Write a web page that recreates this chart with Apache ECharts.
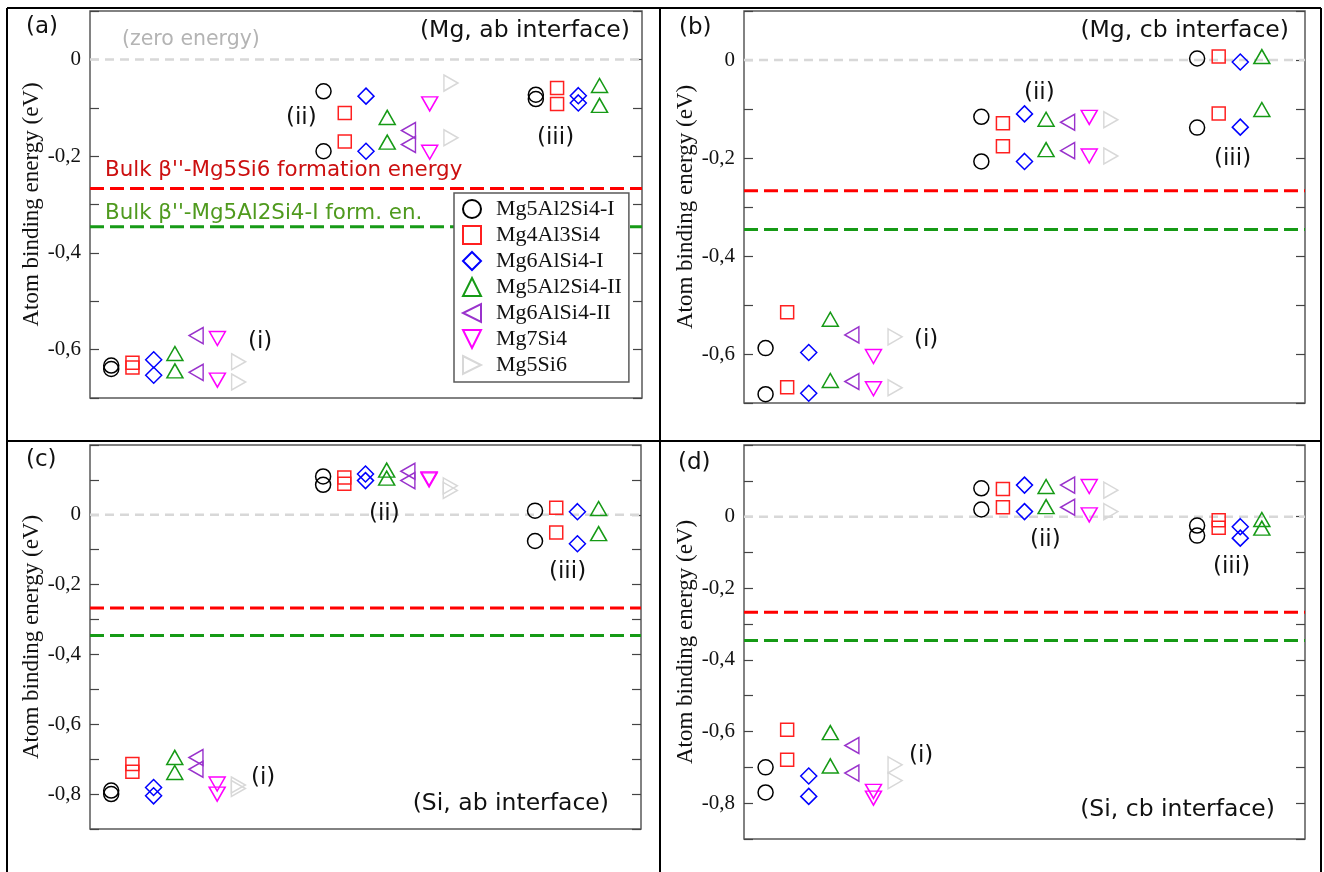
<!DOCTYPE html>
<html><head><meta charset="utf-8">
<script src="https://cdn.jsdelivr.net/npm/echarts@6/dist/echarts.min.js"></script>
<style>html,body{margin:0;padding:0;background:#fff}#c{width:1324px;height:872px}</style>
</head><body><div id="c"></div><script>
// ---------- data ----------
const seriesNames = ['Mg5Al2Si4-I','Mg4Al3Si4','Mg6AlSi4-I','Mg5Al2Si4-II','Mg6AlSi4-II','Mg7Si4','Mg5Si6'];
const xGroupI = [1,2,3,4,5,6,7];
const xGroupII = [11,12,13,14,15,16,17];
const xGroupIII = [21,22,23,24];
const xRange = [0, 26];
const yTickValues = [0, -0.2, -0.4, -0.6, -0.8];
const yTickLabels = ['0', '-0,2', '-0,4', '-0,6', '-0,8'];
const refZero = 0;
const refMg5Si6 = -0.267;
const refMg5Al2Si4 = -0.346;

// (a) Mg, ab interface
const aI_hi   = [-0.633, -0.627, -0.621, -0.608, -0.571, -0.577, -0.625];
const aI_lo   = [-0.640, -0.637, -0.653, -0.644, -0.647, -0.663, -0.667];
const aII_hi  = [-0.066, -0.111, -0.076, -0.120, -0.147, -0.092, -0.049];
const aII_lo  = [-0.190, -0.170, -0.190, -0.171, -0.176, -0.192, -0.162];
const aIII_hi = [-0.073, -0.059, -0.075, -0.054];
const aIII_lo = [-0.082, -0.092, -0.090, -0.095];
// (b) Mg, cb interface
const bI_hi   = [-0.588, -0.515, -0.597, -0.529, -0.561, -0.605, -0.565];
const bI_lo   = [-0.682, -0.668, -0.680, -0.654, -0.656, -0.671, -0.669];
const bII_hi  = [-0.116, -0.129, -0.110, -0.121, -0.127, -0.117, -0.122];
const bII_lo  = [-0.207, -0.176, -0.207, -0.183, -0.185, -0.196, -0.196];
const bIII_hi = [0.003, 0.007, -0.004, 0.007];
const bIII_lo = [-0.138, -0.109, -0.137, -0.101];
// (c) Si, ab interface
const cI_hi   = [-0.790, -0.714, -0.781, -0.695, -0.695, -0.771, -0.774];
const cI_lo   = [-0.800, -0.736, -0.805, -0.738, -0.729, -0.800, -0.784];
const cII_hi  = [0.110, 0.107, 0.117, 0.128, 0.125, 0.103, 0.083];
const cII_lo  = [0.086, 0.089, 0.098, 0.105, 0.098, 0.100, 0.070];
const cIII_hi = [0.012, 0.020, 0.009, 0.018];
const cIII_lo = [-0.075, -0.051, -0.083, -0.054];
// (d) Si, cb interface
const dI_hi   = [-0.700, -0.595, -0.724, -0.603, -0.639, -0.767, -0.693];
const dI_lo   = [-0.770, -0.679, -0.781, -0.696, -0.716, -0.786, -0.737];
const dII_hi  = [0.079, 0.077, 0.088, 0.084, 0.088, 0.084, 0.074];
const dII_lo  = [0.020, 0.026, 0.014, 0.028, 0.026, 0.005, 0.014];
const dIII_hi = [-0.025, -0.010, -0.028, -0.008];
const dIII_lo = [-0.053, -0.031, -0.060, -0.032];

// ---------- styles ----------
const seriesColors = ['#000000','#ff2020','#0000ff','#169a16','#9932cc','#ff00ff','#d8d8d8'];
const symbols = ['circle','rect','diamond','triangle','path://M10,0L10,10L0,5Z','path://M0,0L10,0L5,10Z','path://M0,0L10,5L0,10Z'];
const symbolSizes = [15, 13, 16, [16,14], [14,16], [16,14], [14,16]];

const panels = [
  {grid:{left:90, top:11, width:552, height:387}, min:-0.7, max:0.1, groups:[[aI_hi,aI_lo],[aII_hi,aII_lo],[aIII_hi,aIII_lo]]},
  {grid:{left:744, top:11, width:561, height:392}, min:-0.7, max:0.1, groups:[[bI_hi,bI_lo],[bII_hi,bII_lo],[bIII_hi,bIII_lo]]},
  {grid:{left:90, top:445, width:551, height:384}, min:-0.9, max:0.2, groups:[[cI_hi,cI_lo],[cII_hi,cII_lo],[cIII_hi,cIII_lo]]},
  {grid:{left:744, top:445, width:561, height:394}, min:-0.9, max:0.2, groups:[[dI_hi,dI_lo],[dII_hi,dII_lo],[dIII_hi,dIII_lo]]}
];
const groupXs = [xGroupI, xGroupII, xGroupIII];

function tickFmt(v){
  const k = Math.round(v*10);
  for (let i=0;i<yTickValues.length;i++){ if (Math.round(yTickValues[i]*10) === k) return yTickLabels[i]; }
  return '';
}

const grid=[], xAxis=[], yAxis=[], series=[];
const serif = 'Liberation Serif';
panels.forEach((p, pi) => {
  grid.push(Object.assign({show:true, borderColor:'#5a5a5a', borderWidth:1.5, backgroundColor:'transparent'}, p.grid));
  xAxis.push({type:'value', gridIndex:pi, min:xRange[0], max:xRange[1], show:false});
  yAxis.push({type:'value', gridIndex:pi, min:p.min, max:p.max, interval:0.1, position:'left',
    name:'Atom binding energy (eV)', nameLocation:'middle', nameGap:46,
    nameTextStyle:{fontFamily:serif, fontSize:23, color:'#111'},
    axisLine:{show:false}, splitLine:{show:false},
    axisTick:{show:true, inside:true, length:9, lineStyle:{color:'#444', width:1.2}},
    axisLabel:{formatter:tickFmt, fontFamily:serif, fontSize:21, color:'#111', margin:9, showMinLabel:true, showMaxLabel:true}});
  yAxis.push({type:'value', gridIndex:pi, min:p.min, max:p.max, interval:0.1, position:'right',
    axisLine:{show:false}, splitLine:{show:false}, axisLabel:{show:false},
    axisTick:{show:true, inside:true, length:9, lineStyle:{color:'#444', width:1.2}}});
  const yi = pi*2;
  // reference lines
  const refs = [[refZero,'#d8d8d8',2.5,[9,6]],[refMg5Si6,'#ff0000',3,[14,6]],[refMg5Al2Si4,'#169a16',3,[14,6]]];
  refs.forEach(r => {
    series.push({type:'line', xAxisIndex:pi, yAxisIndex:yi, silent:true, symbol:'none', z:1,
      data:[[xRange[0], r[0]],[xRange[1], r[0]]], lineStyle:{color:r[1], width:r[2], type:r[3]}});
  });
  seriesNames.forEach((name, s) => {
    const data = [];
    p.groups.forEach((g, gi) => {
      if (s < g[0].length) { data.push([groupXs[gi][s], g[0][s]]); data.push([groupXs[gi][s], g[1][s]]); }
    });
    series.push({type:'scatter', name:name, xAxisIndex:pi, yAxisIndex:yi, z:3,
      symbol:symbols[s], symbolSize:symbolSizes[s], data:data,
      itemStyle:{color:'transparent', borderColor:seriesColors[s], borderWidth:1.5, opacity:1}});
  });
});

function txt(x, y, text, size, color, family, align){
  return {type:'text', x:x, y:y, z:50, style:{text:text, fontSize:size, fontFamily:family||'DejaVu Sans', fill:color||'#111', align:align||'left', verticalAlign:'middle'}};
}
function ln(x1,y1,x2,y2){ return {type:'line', z:60, shape:{x1,y1,x2,y2}, style:{stroke:'#000', lineWidth:2}}; }

const graphic = [
  ln(7,8,1321,8), ln(7,8,7,872), ln(1321,8,1321,872), ln(660,8,660,872), ln(7,441,1321,441),
  txt(26,27,'(a)',23), txt(679,28,'(b)',23), txt(26,460,'(c)',23), txt(678,463,'(d)',23),
  txt(122,40,'(zero energy)',20.5,'#b4b4b4'),
  txt(630,31,'(Mg, ab interface)',23.5,'#111','DejaVu Sans','right'),
  txt(1289,31,'(Mg, cb interface)',23.5,'#111','DejaVu Sans','right'),
  txt(609,804,'(Si, ab interface)',23.5,'#111','DejaVu Sans','right'),
  txt(1275,810,'(Si, cb interface)',23.5,'#111','DejaVu Sans','right'),
  txt(105,170,"Bulk \u03b2''-Mg5Si6 formation energy",21.4,'#cc1010'),
  txt(105,213,"Bulk \u03b2''-Mg5Al2Si4-I form. en.",21.4,'#4f9a1e'),
  txt(286,118,'(ii)',23), txt(537,138,'(iii)',23), txt(248,342,'(i)',23),
  txt(1024,93,'(ii)',23), txt(1214,159,'(iii)',23), txt(914,340,'(i)',23),
  txt(369,514,'(ii)',23), txt(549,572,'(iii)',23), txt(251,778,'(i)',23),
  txt(1030,540,'(ii)',23), txt(1213,567,'(iii)',23), txt(909,756,'(i)',23)
];

const chart = echarts.init(document.getElementById('c'), null, {renderer:'canvas'});
chart.setOption({
  animation:false,
  backgroundColor:'#ffffff',
  grid, xAxis, yAxis, series, graphic,
  legend:{data:seriesNames, orient:'vertical', left:454, top:193, selectedMode:false,
    itemWidth:18, itemHeight:18, itemGap:4, padding:[5,7,6,8],
    backgroundColor:'#ffffff', borderColor:'#5a5a5a', borderWidth:1.5, z:20,
    textStyle:{fontFamily:serif, fontSize:22, color:'#111', padding:[0,0,0,10]}}
});
</script></body></html>
